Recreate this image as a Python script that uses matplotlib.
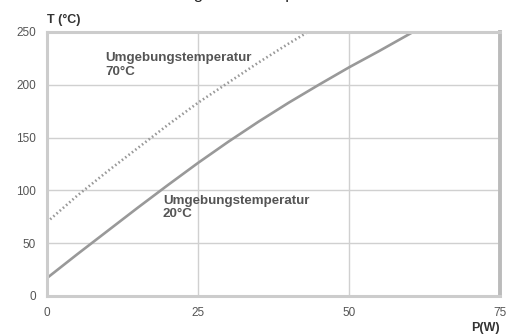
import matplotlib
matplotlib.use("Agg")
import matplotlib.pyplot as plt

plt.rcParams['font.family'] = ['Liberation Sans', 'DejaVu Sans']

# Kennlinien
p_20 = [0, 5, 10, 15, 20, 25, 30, 35, 40, 45, 50, 55, 60.6]
t_20 = [17, 39.5, 61.5, 83.5, 105, 126, 146, 165, 183, 200, 216.5, 232, 250]
p_70 = [0, 5, 10, 15, 20, 25, 30, 35, 40, 43.2]
t_70 = [70, 95, 118, 140, 162, 183, 202, 221, 239, 250]

x_ticks = [0, 25, 50, 75]
y_ticks = [0, 50, 100, 150, 200, 250]

txt_grey = '#555555'
line_grey = '#999999'
grid_grey = '#d0d0d0'

fig = plt.figure(figsize=(5.12, 3.36), dpi=100)
ax = fig.add_axes([47/512, 1 - 296/336, (500-47)/512, (296-32)/336])

ax.plot(p_20, t_20, color=line_grey, linewidth=1.9, solid_joinstyle='round')
ax.plot(p_70, t_70, color=line_grey, linewidth=1.9, linestyle=(0, (0.6, 1.0)))

ax.set_xlim(0, 75)
ax.set_ylim(0, 250)
ax.set_xticks(x_ticks)
ax.set_yticks(y_ticks)
ax.grid(True, color=grid_grey, linewidth=1.0)
ax.tick_params(length=0, labelsize=8.5, colors=txt_grey, pad=8)
for s in ax.spines.values():
    s.set_color('#cccccc')
    s.set_linewidth(2.2)
ax.spines['right'].set_color('#bbbbbb')
ax.spines['right'].set_linewidth(2.8)

ax.text(9.6, 231, 'Umgebungstemperatur\n70°C', fontsize=9.6, fontweight='bold',
        color=txt_grey, va='top', ha='left', linespacing=1.2)
ax.text(19.2, 96, 'Umgebungstemperatur\n20°C', fontsize=9.6, fontweight='bold',
        color=txt_grey, va='top', ha='left', linespacing=1.2)

fig.text(47/512, 1 - 20/336, 'T (°C)', fontsize=9, fontweight='bold',
         color='#333333', va='center', ha='left')
fig.text(500/512, 1 - 328/336, 'P(W)', fontsize=9, fontweight='bold',
         color='#333333', va='center', ha='right')

# Titel oben abgeschnitten
fig.text(140/512, 1 + 1/336, 'Leistungs- und Temperatur', fontsize=12,
         color='#222222', va='baseline', ha='left')

fig.savefig('out.png', dpi=100)
